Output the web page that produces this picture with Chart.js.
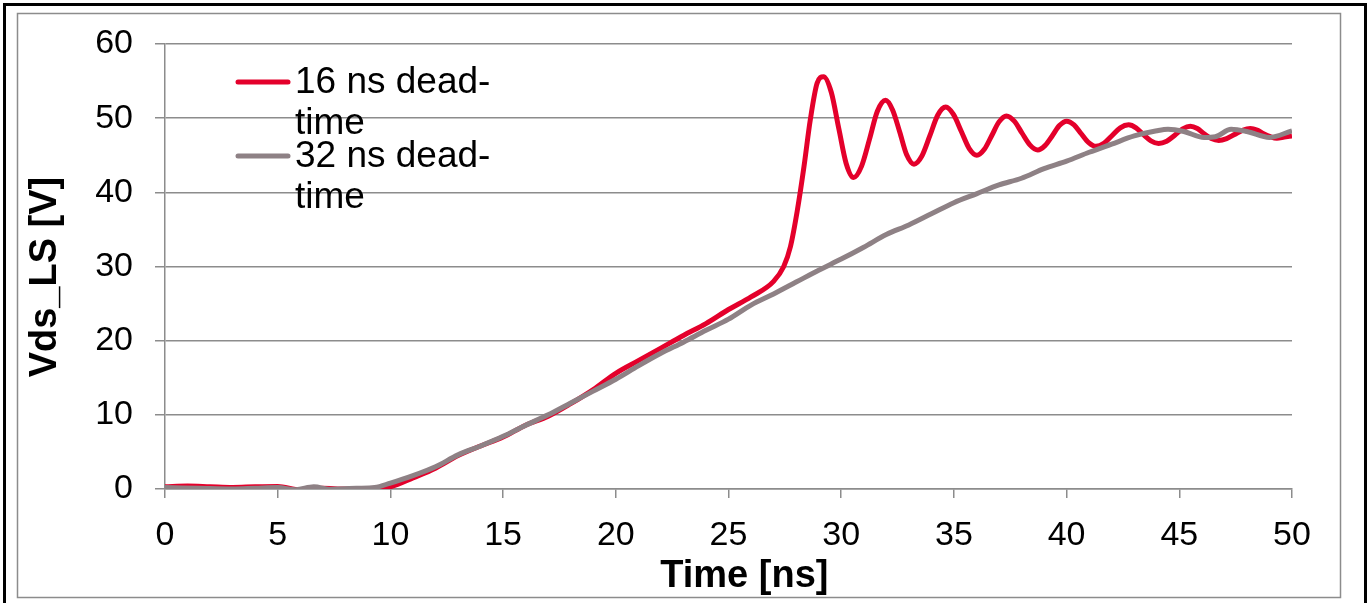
<!DOCTYPE html>
<html>
<head>
<meta charset="utf-8">
<script src="https://cdn.jsdelivr.net/npm/chart.js@4"></script>
<style>
  html, body { margin: 0; padding: 0; background: #fff; }
  #wrap { width: 1370px; height: 603px; position: relative; }
</style>
</head>
<body>
<div id="wrap"><canvas id="chart" width="1370" height="603"></canvas></div>
<script>
var seriesLabels = ['16 ns dead-time', '32 ns dead-time'];
var xTitle = 'Time [ns]';
var yTitle = 'Vds_LS [V]';

// 16 ns dead-time trace
var time16 = [0, 1, 2, 3, 4, 5, 6, 7, 8, 9, 10, 11, 12, 13, 14, 15, 16, 17, 18, 19, 20,
  21, 22, 23, 24, 25, 26, 27, 27.45, 27.75, 28.05, 28.35, 28.63, 28.93, 29.22,
  29.56, 29.9, 30.22, 30.55, 30.9, 31.26, 31.6, 31.97, 32.28, 32.6, 32.9, 33.23,
  33.58, 33.93, 34.28, 34.64, 34.98, 35.33, 35.68, 36.02, 36.35, 36.67, 37.0, 37.33,
  37.68, 38.02, 38.37, 38.72, 39.04, 39.36, 39.68, 40.0, 40.33, 40.65, 40.98, 41.3,
  41.65, 42.0, 42.38, 42.75, 43.08, 43.4, 43.74, 44.08, 44.44, 44.8, 45.15, 45.49,
  45.8, 46.1, 46.42, 46.75, 47.1, 47.45, 47.8, 48.15, 48.45, 48.74, 49.04, 49.33, 49.66, 50];
var vds16 = [0.3, 0.4, 0.3, 0.2, 0.3, 0.35, -0.1, 0.1, 0, 0, 0.3, 1.5, 2.8, 4.5, 5.8, 7.0, 8.6, 9.8, 11.5, 13.4, 15.6,
  17.3, 19.0, 20.7, 22.3, 24.2, 25.9, 28.0, 30.0, 32.7, 37.5, 43.5, 49.8, 54.7, 55.6,
  53.5, 48.5, 43.9, 42.0, 43.5, 47.2, 50.9, 52.4, 51.1, 48.1, 45.1, 43.8,
  44.9, 47.6, 50.4, 51.5, 50.5, 48.2, 45.9, 45.0, 45.8, 47.6, 49.5, 50.3,
  49.6, 48.0, 46.4, 45.7, 46.3, 47.6, 49.0, 49.6, 49.1, 47.9, 46.7, 46.2,
  46.6, 47.6, 48.7, 49.1, 48.7, 47.8, 46.95, 46.6, 46.9, 47.7, 48.55, 48.9,
  48.6, 47.9, 47.25, 47.0, 47.25, 47.8, 48.35, 48.6, 48.4, 47.9, 47.5, 47.3, 47.45, 47.6];

// 32 ns dead-time trace
var time32 = [0, 1.5, 3, 4, 5, 5.8, 6.6, 7.3, 8.5, 9.3, 10, 11, 12, 13, 14, 15, 16, 17, 18, 19, 20,
  21, 22, 23, 24, 25, 26, 27, 28, 29, 30, 31, 32, 33, 34, 35, 36, 37, 38, 39, 40,
  41, 42, 43, 44, 44.5, 45.2, 46.1, 46.6, 47.3, 48, 49, 50];
var vds32 = [0.2, 0.1, 0, 0.1, 0.2, -0.1, 0.3, -0.05, 0.1, 0.2, 0.8, 1.8, 3.0, 4.6, 5.8, 7.1, 8.6, 10.0, 11.6, 13.2, 14.8,
  16.6, 18.3, 19.8, 21.4, 22.9, 24.8, 26.3, 27.9, 29.5, 31.0, 32.6, 34.3, 35.6, 37.1, 38.6, 39.8, 41.0, 41.9, 43.2, 44.2,
  45.4, 46.5, 47.6, 48.3, 48.5, 48.2, 47.4, 47.5, 48.5, 48.2, 47.4, 48.3];

var seriesColors = ['#e4002b', '#8e8185'];
var nb = '\u00a0';

function toPoints(xs, ys) {
  return xs.map(function(x, i) {
    return { x: x, y: ys[i] };
  });
}

// frame around the whole picture, like the exported figure
var framePlugin = {
  id: 'frame',
  beforeDraw: function(chart) {
    var ctx = chart.ctx;
    ctx.save();
    ctx.fillStyle = '#fff';
    ctx.fillRect(0, 0, chart.width, chart.height);
    ctx.strokeStyle = '#000';
    ctx.lineWidth = 3;
    ctx.beginPath();
    ctx.moveTo(4.5, 610);
    ctx.lineTo(4.5, 4.5);
    ctx.lineTo(1365.5, 4.5);
    ctx.lineTo(1365.5, 610);
    ctx.stroke();
    ctx.strokeStyle = '#8c8c8c';
    ctx.lineWidth = 1.5;
    ctx.strokeRect(17.5, 13.5, 1323, 584);
    ctx.restore();
  }
};

// legend inside the plot, text wrapped after "dead-"
var legendPlugin = {
  id: 'wrapLegend',
  afterDatasetsDraw: function(chart) {
    var ctx = chart.ctx;
    ctx.save();
    ctx.font = '37px "Liberation Sans", Arial, sans-serif';
    ctx.textBaseline = 'middle';
    ctx.fillStyle = '#000';
    chart.data.datasets.forEach(function(ds, i) {
      var y = 82 + i * 74;
      ctx.strokeStyle = ds.borderColor;
      ctx.lineWidth = 5;
      ctx.lineCap = 'round';
      ctx.beginPath();
      ctx.moveTo(238, y);
      ctx.lineTo(288, y);
      ctx.stroke();
      var cut = ds.label.indexOf('-') + 1;
      ctx.fillText(ds.label.slice(0, cut), 295, y + 1);
      ctx.fillText(ds.label.slice(cut), 295, y + 42);
    });
    ctx.restore();
  }
};

Chart.defaults.font.family = '"Liberation Sans", Arial, sans-serif';
Chart.defaults.color = '#000';

var ctx = document.getElementById('chart').getContext('2d');
var chart = new Chart(ctx, {
  type: 'line',
  data: {
    datasets: [
      {
        label: seriesLabels[0],
        data: toPoints(time16, vds16),
        borderColor: seriesColors[0],
        borderWidth: 5,
        pointRadius: 0,
        cubicInterpolationMode: 'monotone',
        order: 1
      },
      {
        label: seriesLabels[1],
        data: toPoints(time32, vds32),
        borderColor: seriesColors[1],
        borderWidth: 5,
        pointRadius: 0,
        cubicInterpolationMode: 'monotone',
        order: 0
      }
    ]
  },
  options: {
    responsive: false,
    animation: false,
    layout: { padding: { top: 44, right: 78, left: 0, bottom: 0 } },
    plugins: {
      legend: { display: false },
      tooltip: { enabled: false }
    },
    scales: {
      x: {
        type: 'linear',
        min: 0,
        max: 50,
        afterFit: function(scale) { scale.height = 603 - 489; },
        ticks: { stepSize: 5, font: { size: 34 }, padding: 17, maxRotation: 0 },
        grid: { drawOnChartArea: false, color: '#8c8c8c', lineWidth: 1.5, tickLength: 9 },
        border: { color: '#8c8c8c', width: 1.5 },
        // leading spaces push the title a bit right of centre, as in the original
        title: { display: true, text: nb + nb + nb + xTitle, font: { size: 38, weight: 'bold' }, padding: { top: 0, bottom: 4 } }
      },
      y: {
        min: 0,
        max: 60,
        afterFit: function(scale) { scale.width = 165; },
        ticks: { stepSize: 10, font: { size: 34 }, padding: 22 },
        grid: { color: '#8c8c8c', lineWidth: 1.5, tickLength: 10 },
        border: { color: '#8c8c8c', width: 1.5 },
        title: { display: true, text: yTitle + nb + nb, font: { size: 38, weight: 'bold' }, padding: { top: 23, bottom: 0 } }
      }
    }
  },
  plugins: [framePlugin, legendPlugin]
});
</script>
</body>
</html>
